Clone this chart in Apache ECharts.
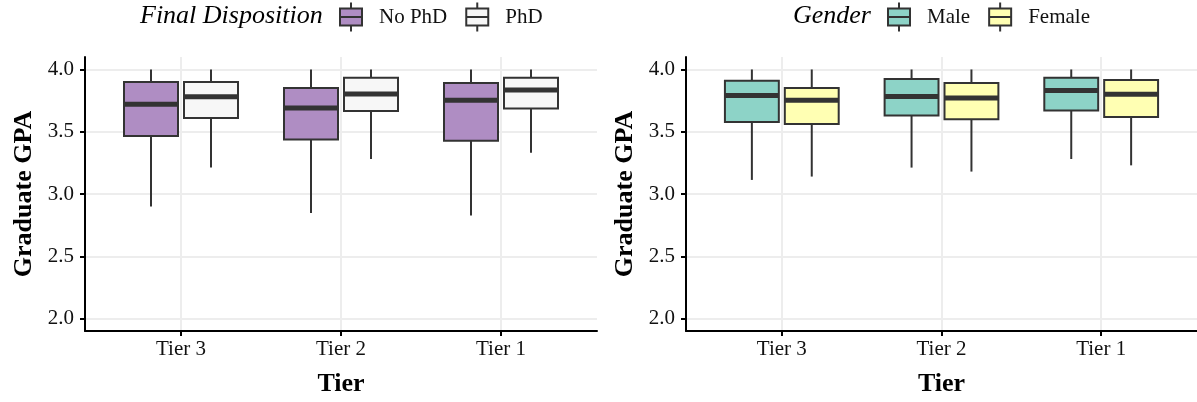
<!DOCTYPE html>
<html><head><meta charset="utf-8">
<script src="https://cdn.jsdelivr.net/npm/echarts@6/dist/echarts.min.js"></script>
<style>html,body{margin:0;padding:0;background:#fff}#c{width:1197px;height:402px}</style>
</head><body><div id="c"></div>
<script>
// ---- data ----
const categories = ['Tier 3', 'Tier 2', 'Tier 1'];
const yTicks = [2.0, 2.5, 3.0, 3.5, 4.0];
// each box: [lower whisker, Q1, median, Q3, upper whisker]
const noPhD  = [[2.90, 3.465, 3.720, 3.900, 4.0], [2.847, 3.438, 3.691, 3.851, 4.0], [2.828, 3.427, 3.752, 3.891, 4.0]];
const phD    = [[3.212, 3.611, 3.780, 3.900, 4.0], [3.281, 3.667, 3.803, 3.933, 4.0], [3.332, 3.686, 3.835, 3.933, 4.0]];
const male   = [[3.113, 3.579, 3.790, 3.909, 4.0], [3.212, 3.630, 3.782, 3.923, 4.0], [3.281, 3.670, 3.832, 3.933, 4.0]];
const female = [[3.140, 3.563, 3.752, 3.851, 4.0], [3.180, 3.600, 3.771, 3.891, 4.0], [3.230, 3.619, 3.800, 3.915, 4.0]];
const legendTitles = ['Final Disposition', 'Gender'];
const yTitle = 'Graduate GPA';
const xTitle = 'Tier';

// ---- styling / layout ----
const FONT = 'Liberation Serif';
const BOX_W = 0.3375, DODGE = 0.1875;
const EDGE = '#333333';
const ICON = 'path://M11,0L11,6M0,6L22,6L22,23L0,23ZM0,14.5L22,14.5M11,23L11,29';

const panels = [
  { left: 85, titleLeft: 140, legendLeft: 339, title: legendTitles[0],
    groups: [['No PhD', noPhD, '#af8dc3'], ['PhD', phD, '#f7f7f7']] },
  { left: 686, titleLeft: 793, legendLeft: 887, title: legendTitles[1],
    groups: [['Male', male, '#8dd3c7'], ['Female', female, '#ffffb3']] }
];

function renderBox(params, api) {
  const x = api.value(0);
  const lo = api.coord([x, api.value(1)]);
  const q1 = api.coord([x, api.value(2)]);
  const md = api.coord([x, api.value(3)]);
  const q3 = api.coord([x, api.value(4)]);
  const hi = api.coord([x, api.value(5)]);
  const w = api.size([BOX_W, 0])[0];
  const cx = lo[0];
  const fill = api.visual('color');
  return { type: 'group', children: [
    { type: 'line', shape: { x1: cx, y1: hi[1], x2: cx, y2: q3[1] }, style: { stroke: EDGE, lineWidth: 2 } },
    { type: 'line', shape: { x1: cx, y1: q1[1], x2: cx, y2: lo[1] }, style: { stroke: EDGE, lineWidth: 2 } },
    { type: 'rect', shape: { x: cx - w / 2, y: q3[1], width: w, height: q1[1] - q3[1] },
      style: { fill: fill, stroke: EDGE, lineWidth: 2 } },
    { type: 'line', shape: { x1: cx - w / 2, y1: md[1], x2: cx + w / 2, y2: md[1] }, style: { stroke: EDGE, lineWidth: 5 } }
  ]};
}

const grid = [], xAxis = [], yAxis = [], series = [], legend = [], title = [];
const catPos = categories.map((c, i) => i + 1);
panels.forEach((p, g) => {
  grid.push({ left: p.left, top: 57, width: 512, height: 275, containLabel: false });
  xAxis.push({
    type: 'value', gridIndex: g, min: 0.4, max: 3.6,
    name: xTitle, nameLocation: 'middle', nameGap: 40,
    nameTextStyle: { fontFamily: FONT, fontSize: 26, fontWeight: 'bold', color: '#000' },
    axisLine: { show: true, lineStyle: { color: '#000', width: 2 } },
    axisTick: { show: true, length: 5, customValues: catPos, lineStyle: { color: '#000', width: 2 } },
    axisLabel: { customValues: catPos, margin: 8, formatter: v => categories[Math.round(v) - 1],
      fontFamily: FONT, fontSize: 21, color: '#111' },
    splitLine: { show: true, lineStyle: { color: '#ededed', width: 2 } }
  });
  yAxis.push({
    type: 'value', gridIndex: g, min: 1.9, max: 4.1,
    name: yTitle, nameLocation: 'middle', nameGap: 48,
    nameTextStyle: { fontFamily: FONT, fontSize: 26, fontWeight: 'bold', color: '#000' },
    axisLine: { show: true, lineStyle: { color: '#000', width: 2 } },
    axisTick: { show: true, length: 5, customValues: yTicks, lineStyle: { color: '#000', width: 2 } },
    axisLabel: { customValues: yTicks, margin: 11, formatter: v => v.toFixed(1),
      fontFamily: FONT, fontSize: 21, color: '#111' },
    splitLine: { show: true, lineStyle: { color: '#ededed', width: 2 } }
  });
  title.push({ text: p.title, left: p.titleLeft, top: 3, padding: 0,
    textStyle: { fontFamily: FONT, fontSize: 26, fontStyle: 'italic', fontWeight: 'normal', color: '#000' } });
  legend.push({
    left: p.legendLeft, top: 1.5, padding: 0, orient: 'horizontal',
    itemWidth: 22, itemHeight: 29, itemGap: 18,
    data: p.groups.map(gr => ({ name: gr[0], icon: ICON })),
    itemStyle: { borderColor: EDGE, borderWidth: 2 },
    textStyle: { fontFamily: FONT, fontSize: 21, color: '#111', padding: [0, 0, 0, 12] },
    selectedMode: false
  });
  p.groups.forEach((gr, k) => {
    const offset = k === 0 ? -DODGE : DODGE;
    series.push({
      type: 'custom', name: gr[0], xAxisIndex: g, yAxisIndex: g,
      itemStyle: { color: gr[2] },
      encode: { x: 0, y: [1, 2, 3, 4, 5] },
      data: gr[1].map((s, i) => [i + 1 + offset].concat(s)),
      renderItem: renderBox
    });
  });
});

const chart = echarts.init(document.getElementById('c'), null, { renderer: 'canvas' });
chart.setOption({ animation: false, backgroundColor: '#fff', title, legend, grid, xAxis, yAxis, series });
</script></body></html>
